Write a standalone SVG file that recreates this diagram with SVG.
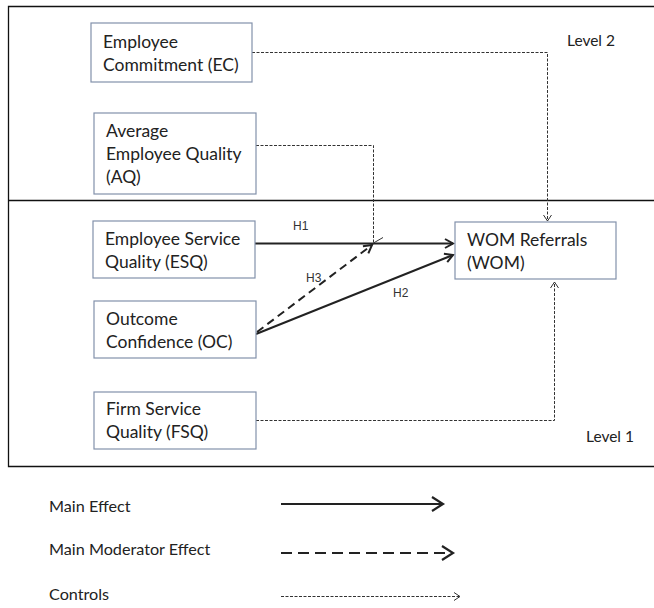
<svg xmlns="http://www.w3.org/2000/svg" width="654" height="608" viewBox="0 0 654 608">
<defs>
<style>
.box{fill:#fff;stroke:#8291ab;stroke-width:1.2}
.t{font-family:Lato,"Liberation Sans",sans-serif;font-size:17.5px;fill:#222}
.lv{font-family:Lato,"Liberation Sans",sans-serif;font-size:15.5px;fill:#222}
.lg{font-family:Lato,"Liberation Sans",sans-serif;font-size:16.2px;fill:#222}
.h{font-family:"Liberation Sans",Arial,sans-serif;font-size:12px;fill:#333}
.frame{stroke:#111;stroke-width:1.3;fill:none}
.main{stroke:#222;stroke-width:2;fill:none}
.mod{stroke:#222;stroke-width:2;fill:none;stroke-dasharray:8 5}
.ctrl{stroke:#333;stroke-width:1;fill:none;stroke-dasharray:3 1.5}
</style>
<marker id="am" markerUnits="userSpaceOnUse" markerWidth="14" markerHeight="14" viewBox="-10 -7 12 14" refX="0" refY="0" orient="auto">
<path d="M-8,-4.5 L0,0 L-8,4.5" fill="none" stroke="#222" stroke-width="2"/>
</marker>
<marker id="ac" markerUnits="userSpaceOnUse" markerWidth="12" markerHeight="12" viewBox="-8 -6 10 12" refX="0" refY="0" orient="auto">
<path d="M-6,-4 L0,0 L-6,4" fill="none" stroke="#333" stroke-width="1"/>
</marker>
<marker id="al" markerUnits="userSpaceOnUse" markerWidth="16" markerHeight="18" viewBox="-13 -9 15 18" refX="0" refY="0" orient="auto">
<path d="M-11,-7 L0,0 L-11,7" fill="none" stroke="#222" stroke-width="2.2"/>
</marker>
</defs>
<rect width="654" height="608" fill="#fff"/>
<g id="frame">
<path class="frame" d="M654,6.5 H8.5 V466.5 H654"/>
<path class="frame" d="M8.5,200.5 H654"/>
<text class="lv" x="567" y="46">Level 2</text>
<text class="lv" x="586" y="442">Level 1</text>
</g>
<g id="connectors">
<path class="ctrl" d="M252,52.5 H547.5 V221" marker-end="url(#ac)"/>
<path class="ctrl" d="M256,145.5 H373.5 V243"/>
<path class="ctrl" d="M256,420.5 H554.5 V282" marker-end="url(#ac)"/>
<path class="main" d="M255,243.5 H453" marker-end="url(#am)"/>
<path class="main" d="M256,334 L453,255" marker-end="url(#am)"/>
<path class="mod" d="M257,332 L372,245" marker-end="url(#am)"/>
<path d="M373.5,243 L383,237.5" stroke="#333" stroke-width="1" fill="none"/>
<text class="h" x="293" y="230">H1</text>
<text class="h" x="306" y="282">H3</text>
<text class="h" x="393" y="297">H2</text>
</g>
<g id="EC">
<rect class="box" x="91" y="23" width="161" height="59"/>
<text class="t" x="103" y="48">Employee</text>
<text class="t" x="103" y="71">Commitment (EC)</text>
</g>
<g id="AQ">
<rect class="box" x="94" y="113" width="162" height="81"/>
<text class="t" x="106" y="137">Average</text>
<text class="t" x="106" y="160">Employee Quality</text>
<text class="t" x="106" y="183">(AQ)</text>
</g>
<g id="ESQ">
<rect class="box" x="93" y="221" width="162" height="57"/>
<text class="t" x="105" y="245">Employee Service</text>
<text class="t" x="105" y="268">Quality (ESQ)</text>
</g>
<g id="OC">
<rect class="box" x="94" y="301" width="162" height="57"/>
<text class="t" x="106" y="325">Outcome</text>
<text class="t" x="106" y="348">Confidence (OC)</text>
</g>
<g id="FSQ">
<rect class="box" x="94" y="392" width="162" height="57"/>
<text class="t" x="106" y="415">Firm Service</text>
<text class="t" x="106" y="438">Quality (FSQ)</text>
</g>
<g id="WOM">
<rect class="box" x="455" y="222" width="161" height="57"/>
<text class="t" x="467" y="246">WOM Referrals</text>
<text class="t" x="467" y="269">(WOM)</text>
</g>
<g id="legend">
<text class="lg" x="49" y="512">Main Effect</text>
<text class="lg" x="49" y="555">Main Moderator Effect</text>
<text class="lg" x="49" y="600">Controls</text>
<path class="main" d="M281,504 H443" marker-end="url(#al)"/>
<path class="main" d="M281,553 H453" stroke-width="2.5" stroke-dasharray="11 6" marker-end="url(#al)"/>
<path class="ctrl" d="M281,596.5 H460" marker-end="url(#ac)"/>
</g>
</svg>
